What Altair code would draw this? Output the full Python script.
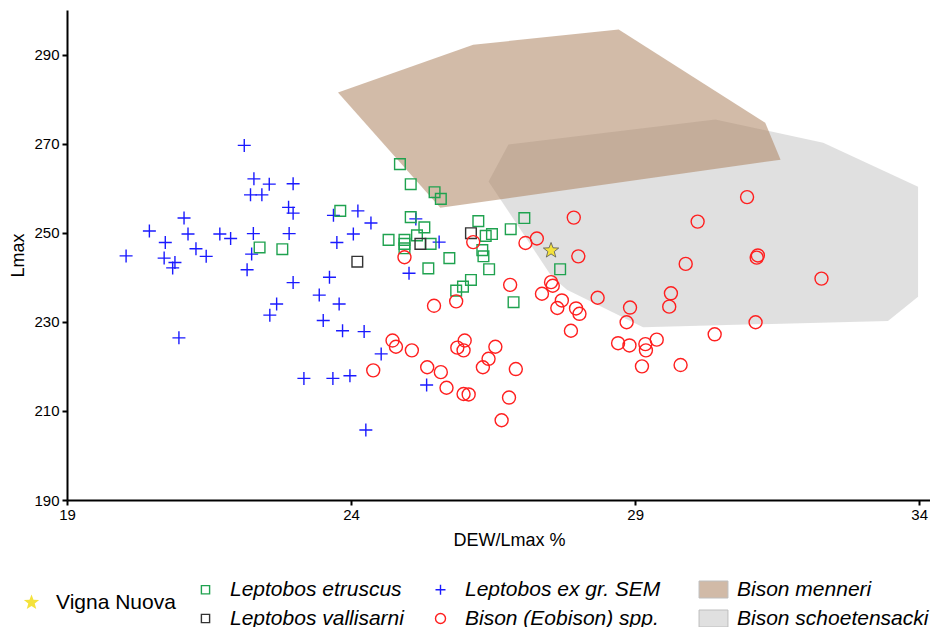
import altair as alt
import pandas as pd

FONT = "Liberation Sans"

# ---- data ----
sem_x = [22.12, 22.29, 22.56, 22.98, 22.23, 22.43, 22.90, 22.98, 23.69, 24.12,
         24.35, 21.06, 20.45, 21.13, 20.73, 21.69, 21.88, 22.28, 22.91, 24.04,
         23.75, 21.27, 21.45, 20.04, 20.71, 20.90, 20.86, 22.25, 22.17, 22.98,
         23.62, 23.44, 23.79, 22.69, 22.57, 23.51, 23.85, 24.23, 25.02, 24.53,
         23.17, 23.68, 23.98, 25.33, 24.26, 20.97, 25.14, 25.55]
sem_y = [269.6, 262.1, 260.9, 261.0, 258.5, 258.5, 255.7, 254.4, 253.9, 254.9,
         252.2, 253.3, 250.4, 249.7, 247.8, 249.7, 248.7, 249.8, 249.8, 249.7,
         247.8, 246.4, 244.7, 244.8, 244.3, 243.3, 242.1, 245.2, 241.7, 238.8,
         240.0, 236.0, 234.0, 234.0, 231.5, 230.3, 228.0, 227.8, 240.9, 222.8,
         217.3, 217.3, 217.9, 215.8, 205.7, 226.4, 253.1, 247.9]

etr_x = [23.81, 22.39, 22.79, 24.86, 25.05, 25.47, 25.58, 25.05, 25.29, 25.16,
         24.66, 24.94, 24.94, 24.94, 25.40, 25.73, 25.36, 26.24, 26.37, 26.48,
         26.31, 26.33, 26.43, 26.81, 27.05, 27.68, 26.11, 25.97, 25.85, 26.86]
etr_y = [254.9, 246.7, 246.3, 265.4, 260.9, 259.1, 257.6, 253.5, 251.2, 249.4,
         248.4, 248.4, 247.5, 246.5, 247.5, 244.3, 242.0, 252.6, 249.3, 249.7,
         246.1, 244.7, 241.8, 250.8, 253.3, 241.8, 239.4, 237.9, 237.0, 234.4]

val_x = [24.11, 25.22, 26.11]
val_y = [243.5, 247.5, 249.9]

bis_x = [24.94, 26.15, 27.07, 27.27, 27.92, 28.00, 26.80, 25.46, 25.85, 24.73,
         24.79, 25.07, 26.00, 25.87, 25.98, 26.54, 26.42, 26.32, 26.90, 25.34,
         25.58, 24.39, 25.68, 25.98, 26.07, 26.78, 26.65, 30.97, 30.10, 29.89,
         31.16, 31.14, 32.28, 27.52, 27.55, 27.36, 27.71, 27.63, 27.96, 28.02,
         28.34, 29.63, 29.60, 28.91, 28.85, 31.12, 27.87, 30.40, 28.70, 28.90,
         29.18, 29.19, 29.38, 29.12, 29.80]
bis_y = [244.5, 247.9, 247.7, 248.7, 253.4, 244.7, 238.3, 233.6, 234.6, 225.8,
         224.4, 223.6, 225.8, 224.2, 223.6, 224.4, 221.7, 219.8, 219.4, 219.8,
         218.7, 219.1, 215.2, 213.8, 213.7, 213.0, 207.9, 258.0, 252.5, 243.0,
         244.9, 244.4, 239.7, 238.9, 238.1, 236.3, 234.8, 233.1, 233.0, 231.8,
         235.4, 236.4, 233.4, 233.2, 229.9, 229.9, 228.0, 227.2, 225.2, 224.7,
         225.0, 223.6, 226.0, 220.0, 220.3]

vn_x = [27.52]
vn_y = [246.0]

menneri_x = [23.77, 26.15, 28.71, 31.29, 31.56, 25.57]
menneri_y = [281.5, 292.2, 295.6, 274.7, 266.4, 255.6]

schoet_x = [26.42, 26.77, 30.41, 32.31, 33.98, 33.98, 33.45, 29.14, 27.80, 27.53]
schoet_y = [261.5, 269.8, 275.4, 270.2, 260.3, 235.6, 230.2, 228.8, 237.2, 240.2]

# legend order (column by column)
species = ["Leptobos etruscus", "Leptobos vallisarni",
           "Leptobos ex gr. SEM", "Bison (Eobison) spp."]
polys = ["Bison menneri", "Bison schoetensacki"]

# ---- tables ----
rows = []
for name, xs, ys in [("Leptobos ex gr. SEM", sem_x, sem_y),
                     ("Leptobos etruscus", etr_x, etr_y),
                     ("Leptobos vallisarni", val_x, val_y),
                     ("Bison (Eobison) spp.", bis_x, bis_y)]:
    rows += [{"x": a, "y": b, "sp": name} for a, b in zip(xs, ys)]
pts = pd.DataFrame(rows)

star_df = pd.DataFrame({"x": vn_x, "y": vn_y, "site": ["Vigna Nuova"] * len(vn_x)})

def poly_df(name, xs, ys):
    return pd.DataFrame({"x": xs, "y": ys, "name": [name] * len(xs),
                         "i": list(range(len(xs)))})

grey_df = poly_df("Bison schoetensacki", schoet_x, schoet_y)
brown_df = poly_df("Bison menneri", menneri_x, menneri_y)

# ---- styles ----
SQUARE = "M-0.82,-0.82H0.82V0.82H-0.82Z"
PLUS = "M-1,0H1M0,-1V1"
STAR = ("M0,-1L0.247,-0.34L0.951,-0.309L0.399,0.13L0.588,0.809L0,0.42"
        "L-0.588,0.809L-0.399,0.13L-0.951,-0.309L-0.247,-0.34Z")
RECT = "M-1.7,-1H1.7V1H-1.7Z"

xscale = alt.Scale(domain=[19, 34.19], nice=False, zero=False)
yscale = alt.Scale(domain=[190, 300], nice=False, zero=False)

X = alt.X("x:Q", scale=xscale,
          axis=alt.Axis(values=[19, 24, 29, 34], title="DEW/Lmax %",
                        labelPadding=2, titlePadding=9, titleX=442, labelFlush=False))
Y = alt.Y("y:Q", scale=yscale,
          axis=alt.Axis(values=[190, 210, 230, 250, 270, 290], title="Lmax",
                        labelPadding=3, titlePadding=6, labelFlush=False))

fill_scale = alt.Scale(domain=polys, range=["#ad8361", "#c7c7c7"])
fill_legend = alt.Legend(title=None, orient="none", legendX=636, legendY=569,
                         symbolType=RECT, symbolSize=289, symbolStrokeColor="#8a8a8a",
                         symbolStrokeWidth=1, symbolOpacity=0.55,
                         labelFontSize=21, labelFont=FONT,
                         labelFontStyle="italic", labelColor="black", labelOffset=13,
                         rowPadding=7, labelLimit=300, padding=0)

grey = alt.Chart(grey_df).mark_line(strokeWidth=0, fillOpacity=0.55).encode(
    x=X, y=Y, order="i:Q",
    fill=alt.Fill("name:N", scale=fill_scale, legend=fill_legend))
brown = alt.Chart(brown_df).mark_line(strokeWidth=0, fillOpacity=0.55).encode(
    x=X, y=Y, order="i:Q",
    fill=alt.Fill("name:N", scale=fill_scale, legend=fill_legend))

sp_legend = alt.Legend(title=None, orient="none", legendX=128, legendY=569,
                       columns=2, columnPadding=26, rowPadding=7,
                       labelFontSize=21, labelFont=FONT, labelFontStyle="italic",
                       labelColor="black", labelOffset=14, labelLimit=300,
                       symbolStrokeWidth=1.4, padding=0)

points = alt.Chart(pts).mark_point(filled=False, size=169, strokeWidth=1.4, opacity=1).encode(
    x=X, y=Y,
    color=alt.Color("sp:N", scale=alt.Scale(domain=species,
                    range=["#1fa24f", "#333333", "#1a1aff", "#ff1f1f"]), legend=sp_legend),
    shape=alt.Shape("sp:N", scale=alt.Scale(domain=species,
                    range=[SQUARE, SQUARE, PLUS, "circle"]), legend=sp_legend))

star_legend = alt.Legend(title=None, orient="none", legendX=-46, legendY=582,
                         symbolType=STAR, symbolSize=260, symbolFillColor="#f4e23c",
                         symbolStrokeColor="#555555", symbolStrokeWidth=0.8,
                         labelFontSize=21, labelFont=FONT, labelColor="black",
                         labelOffset=14, labelLimit=300, padding=0)

star = alt.Chart(star_df).mark_point(shape=STAR, filled=True, fill="#f4e23c",
                                     stroke="#555555", strokeWidth=0.8, opacity=1).encode(
    x=X, y=Y,
    size=alt.Size("site:N", scale=alt.Scale(type="ordinal", domain=["Vigna Nuova"], range=[260]),
                  legend=star_legend))

chart = alt.layer(grey, brown, points, star).properties(
    width=863, height=490,
    padding={"left": 59, "top": 2, "right": 0, "bottom": 127},
    autosize=alt.AutoSizeParams(type="none"),
    background="white",
).configure_view(strokeWidth=0).configure_axis(
    domainColor="black", domainWidth=2, tickColor="black", tickWidth=2, tickSize=5,
    labelFont=FONT, labelFontSize=15, labelColor="black",
    titleFont=FONT, titleFontSize=18, titleFontWeight="normal", titleColor="black",
    grid=False)

chart.save("out.html", embed_options={"renderer": "svg", "actions": False})
